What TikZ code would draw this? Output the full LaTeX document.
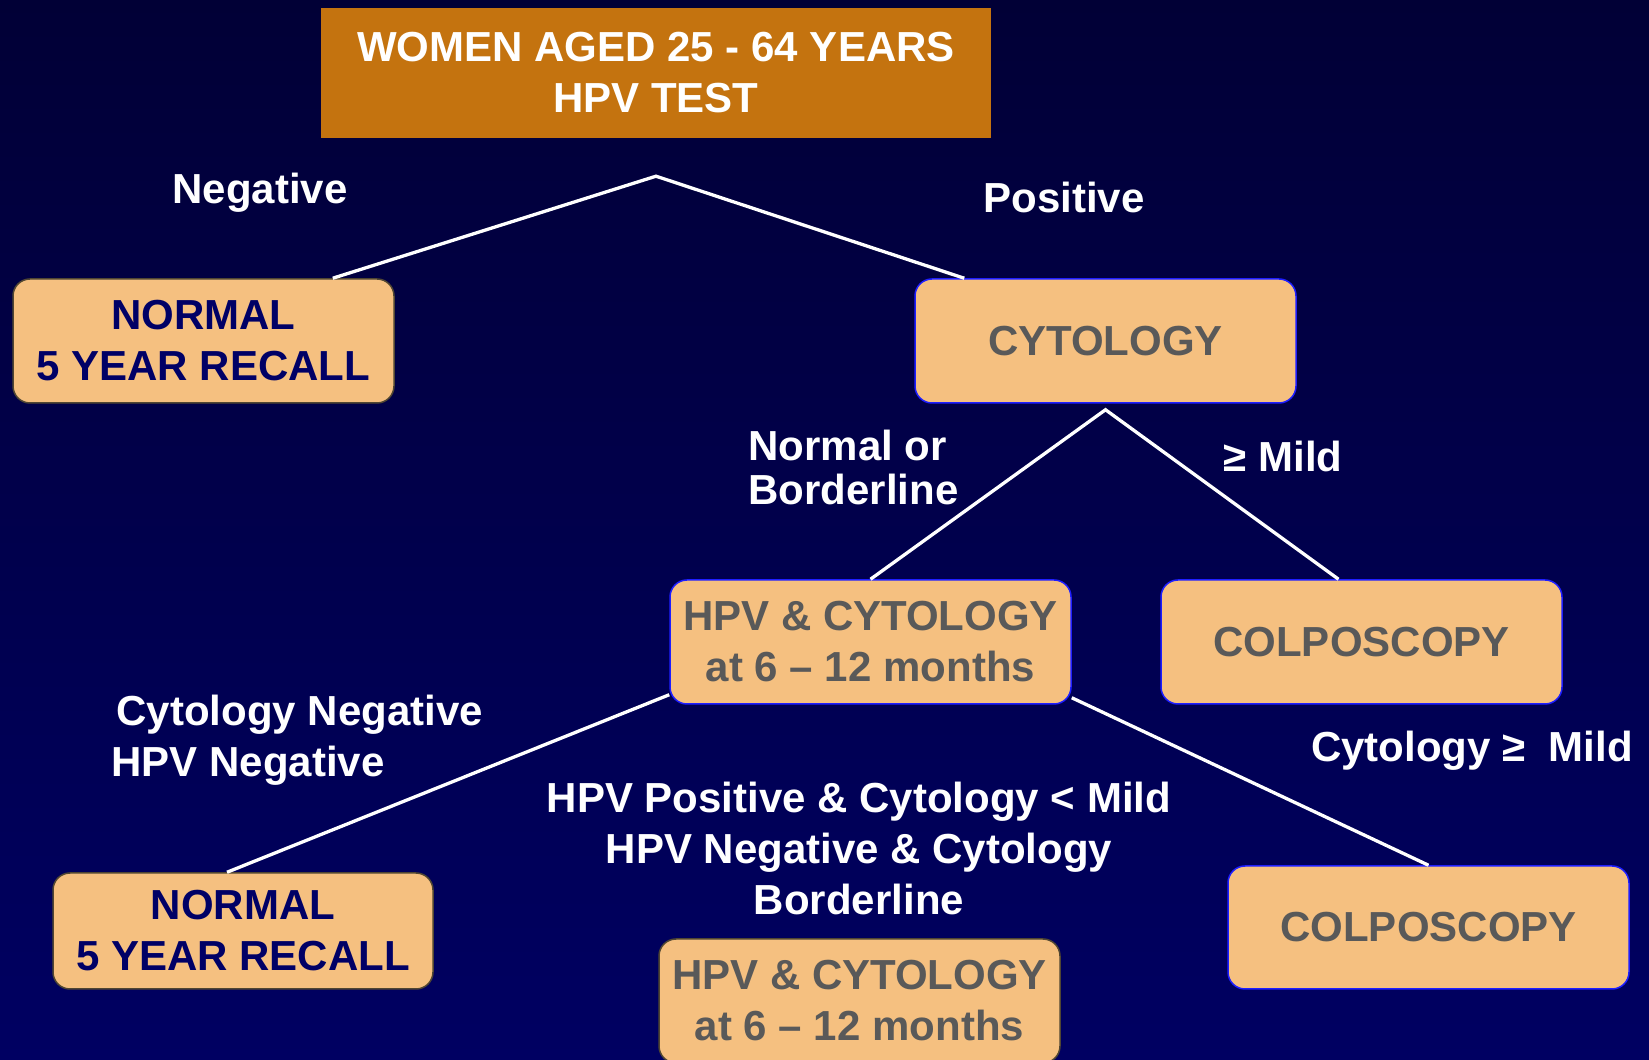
\documentclass[tikz,border=0pt]{standalone}
\usepackage{fontspec}
\setmainfont{Liberation Sans}

\definecolor{navytop}{RGB}{1,0,54}
\definecolor{navybot}{RGB}{0,0,98}
\definecolor{titleorange}{RGB}{196,115,15}
\definecolor{boxfill}{RGB}{245,192,128}
\definecolor{boxgray}{RGB}{89,89,89}
\definecolor{normnavy}{RGB}{0,0,102}
\definecolor{edgeblue}{RGB}{30,30,255}
\definecolor{edgebrown}{RGB}{80,70,50}

\tikzset{
  bigtext/.style={font=\bfseries\fontsize{42}{51}\selectfont},
  titlebox/.style={bigtext, rectangle, fill=titleorange, text=white, align=center,
    minimum width=670pt, minimum height=130pt, inner sep=0pt},
  stepbox/.style={bigtext, rectangle, rounded corners=17pt, fill=boxfill, text=boxgray,
    align=center, minimum width=401pt, minimum height=124pt, inner sep=0pt, line width=1.5pt},
  bluebox/.style={stepbox, draw=edgeblue},
  brownbox/.style={stepbox, draw=edgebrown},
  recallbox/.style={brownbox, text=normnavy, minimum width=381pt},
  outcome/.style={bigtext, text=white},
  branch/.style={white, line width=3.3pt}
}

\begin{document}
\begin{tikzpicture}[x=1pt, y=1pt]
    % Background
    \shade[top color=navytop, bottom color=navybot] (0,0) rectangle (1649,1060);
    \useasboundingbox (0,0) rectangle (1649,1060);
    \clip (0,0) rectangle (1649,1060);

    % Boxes
    \node[titlebox] (test) at (656,987) {WOMEN AGED 25 - 64 YEARS\\HPV TEST};
    \node[recallbox] (normA) at (203.5,719) {NORMAL\\5 YEAR RECALL};
    \node[bluebox, minimum width=381pt] (cyto) at (1105.5,719) {CYTOLOGY};
    \node[bluebox] (hpvA) at (870.5,418) {HPV \& CYTOLOGY\\at 6 -- 12 months};
    \node[bluebox] (colpoA) at (1361.5,418) {COLPOSCOPY};
    \node[recallbox, minimum width=380pt, minimum height=116pt] (normB) at (243,129) {NORMAL\\5 YEAR RECALL};
    \node[bluebox, minimum height=123pt] (colpoB) at (1428.5,132.5) {COLPOSCOPY};
    \node[brownbox] (hpvB) at (859.5,59) {HPV \& CYTOLOGY\\at 6 -- 12 months};

    % Branch points
    \coordinate (apexTest) at ([yshift=-38pt]test.south);
    \coordinate (apexCyto) at ([yshift=-6pt]cyto.south);

    % Branches
    \draw[branch] ([xshift=-62pt]normA.north east) -- (apexTest) -- ([xshift=50pt]cyto.north west);
    \draw[branch] (hpvA.north) -- (apexCyto) -- ([xshift=-23pt]colpoA.north);
    \draw[branch] ([yshift=10pt]hpvA.south west) -- ([xshift=-16pt]normB.north);
    \draw[branch] ([yshift=7pt]hpvA.south east) -- (colpoB.north);

    % Outcome labels
    \node[outcome] (neg) at (260,867) {Negative};
    \node[outcome] (pos) at (1064,863) {Positive};
    \node[outcome, anchor=west, align=left, font=\bfseries\fontsize{42}{44}\selectfont] (normBord) at (745,593) {Normal or\\Borderline};
    \node[outcome] (mild) at (1283,604) {≥ Mild};
    \node[outcome, anchor=west, align=left] (bothNeg) at (108,320) {\hspace{5pt}Cytology Negative\\HPV Negative};
    \node[outcome, align=center] (repeat) at (859,212) {HPV Positive \& Cytology < Mild\\HPV Negative \& Cytology\\Borderline};
    \node[outcome] (cytMild) at (1472,309) {Cytology ≥~ Mild};
\end{tikzpicture}
\end{document}
